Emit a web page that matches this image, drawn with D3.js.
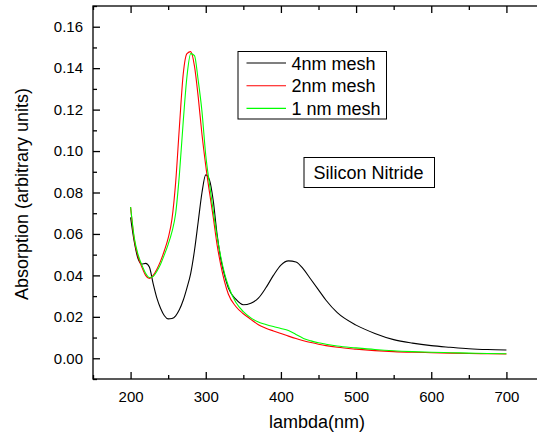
<!DOCTYPE html>
<html><head><meta charset="utf-8">
<script src="https://cdn.jsdelivr.net/npm/d3@7"></script>
<style>body{margin:0;background:#fff}svg{display:block;font-family:"Liberation Sans",Arial,sans-serif}</style>
</head><body><svg id="c" width="537" height="436"></svg>
<script>
const wavelengths = [200,205,210,215,220,225,230,235,240,245,250,255,260,265,270,275,280,285,290,295,300,305,310,315,320,325,330,340,350,360,370,380,390,400,410,420,430,440,450,460,475,500,525,550,575,600,625,650,675,700];
const mesh4nm = [0.068,0.056,0.048,0.0455,0.0458,0.044,0.036,0.029,0.024,0.0205,0.019,0.0192,0.0205,0.0235,0.028,0.034,0.041,0.052,0.066,0.080,0.0885,0.086,0.076,0.060,0.048,0.040,0.034,0.0285,0.0258,0.0266,0.029,0.034,0.040,0.045,0.047,0.0465,0.043,0.038,0.033,0.028,0.022,0.016,0.0120,0.0090,0.0073,0.0061,0.0053,0.0046,0.0042,0.0040];
const mesh2nm = [0.073,0.057,0.049,0.044,0.040,0.0385,0.040,0.043,0.047,0.052,0.058,0.067,0.085,0.112,0.137,0.147,0.148,0.141,0.126,0.108,0.093,0.080,0.068,0.055,0.045,0.037,0.031,0.025,0.0215,0.0188,0.0162,0.0145,0.0132,0.0120,0.0107,0.0095,0.0085,0.0076,0.0068,0.0061,0.0053,0.0044,0.0037,0.0032,0.0029,0.0027,0.0025,0.0023,0.0022,0.0021];
const mesh1nm = [0.073,0.058,0.050,0.045,0.041,0.039,0.0395,0.042,0.0455,0.050,0.055,0.061,0.070,0.089,0.114,0.136,0.147,0.146,0.134,0.119,0.098,0.084,0.071,0.059,0.049,0.041,0.035,0.027,0.0225,0.0195,0.0175,0.0163,0.0153,0.0144,0.0134,0.0115,0.0096,0.0084,0.0075,0.0068,0.0059,0.0050,0.0042,0.0036,0.0032,0.0029,0.0027,0.0025,0.0023,0.0022];
const seriesNames = ["4nm mesh","2nm mesh","1 nm mesh"];
const seriesColors = ["#000000","#ff0000","#00ff00"];
const xTicks = [200,300,400,500,600,700];
const yTicks = [0.00,0.02,0.04,0.06,0.08,0.10,0.12,0.14,0.16];
const xTitle = "lambda(nm)";
const yTitle = "Absorption (arbitrary units)";
const annotation = "Silicon Nitride";

const svg = d3.select("#c");
const L=93, R=544, T=6, B=379;
const x = d3.scaleLinear().domain([150,750]).range([L,R]);
const y = d3.scaleLinear().domain([-0.01,0.17]).range([B,T]);
const font = "Liberation Sans, Arial, sans-serif";

// series
const allSeries = [mesh4nm, mesh2nm, mesh1nm];
const line = d3.line().x(d=>x(d[0])).y(d=>y(d[1])).curve(d3.curveMonotoneX);
const plot = svg.append("g");
allSeries.forEach((vals,i)=>{
  plot.append("path").datum(wavelengths.map((w,j)=>[w,vals[j]]))
    .attr("d",line).attr("fill","none").attr("stroke",seriesColors[i]).attr("stroke-width",1.1);
});

// axes (ticks inward)
const xMinor = d3.range(150,751,50).filter(v=>!xTicks.includes(v));
const yMinor = d3.range(-1,18).map(v=>v/100).filter(v=>!yTicks.some(t=>Math.abs(t-v)<1e-9));
function styleAxis(g){g.selectAll("path,line").attr("stroke","#000").attr("stroke-width",1.3);g.select(".domain").remove();}
const ax = (gen,tr)=>svg.append("g").attr("transform",tr).call(gen).call(styleAxis);
ax(d3.axisBottom(x).tickValues(xTicks).tickSize(-7).tickFormat(d3.format("d")).tickPadding(12),`translate(0,${B})`)
  .selectAll("text").attr("font-size",15).attr("font-family",font).attr("fill","#000");
ax(d3.axisBottom(x).tickValues(xMinor).tickSize(-4).tickFormat(""),`translate(0,${B})`);
ax(d3.axisTop(x).tickValues(xTicks).tickSize(-7).tickFormat(""),`translate(0,${T})`);
ax(d3.axisTop(x).tickValues(xMinor).tickSize(-4).tickFormat(""),`translate(0,${T})`);
ax(d3.axisLeft(y).tickValues(yTicks).tickSize(-7).tickFormat(d3.format(".2f")).tickPadding(10),`translate(${L},0)`)
  .selectAll("text").attr("font-size",15).attr("font-family",font).attr("fill","#000");
ax(d3.axisLeft(y).tickValues(yMinor).tickSize(-4).tickFormat(""),`translate(${L},0)`);
ax(d3.axisRight(y).tickValues(yTicks).tickSize(-7).tickFormat(""),`translate(${R},0)`);
ax(d3.axisRight(y).tickValues(yMinor).tickSize(-4).tickFormat(""),`translate(${R},0)`);
svg.append("rect").attr("x",L).attr("y",T).attr("width",R-L).attr("height",B-T)
  .attr("fill","none").attr("stroke","#000").attr("stroke-width",1.3);

// titles
svg.append("text").attr("x",317).attr("y",428).attr("text-anchor","middle")
  .attr("font-size",18).attr("fill","#000").text(xTitle);
svg.append("text").attr("transform","translate(28,194) rotate(-90)").attr("text-anchor","middle")
  .attr("font-size",18).attr("fill","#000").text(yTitle);

// legend
const lg = svg.append("g");
lg.append("rect").attr("x",238).attr("y",51.5).attr("width",148.5).attr("height",67.5)
  .attr("fill","#fff").attr("stroke","#000").attr("stroke-width",1);
seriesNames.forEach((n,i)=>{
  const yy = 63 + i*22.7;
  lg.append("line").attr("x1",246.5).attr("x2",286).attr("y1",yy).attr("y2",yy)
    .attr("stroke",seriesColors[i]).attr("stroke-width",1.1);
  lg.append("text").attr("x",291.5).attr("y",yy+6.5).attr("font-size",18).attr("fill","#000").text(n);
});

// annotation
svg.append("rect").attr("x",304).attr("y",157.5).attr("width",130.5).attr("height",30)
  .attr("fill","#fff").attr("stroke","#000").attr("stroke-width",1);
svg.append("text").attr("x",313.5).attr("y",178.5).attr("font-size",18).attr("fill","#000").text(annotation);
</script></body></html>
